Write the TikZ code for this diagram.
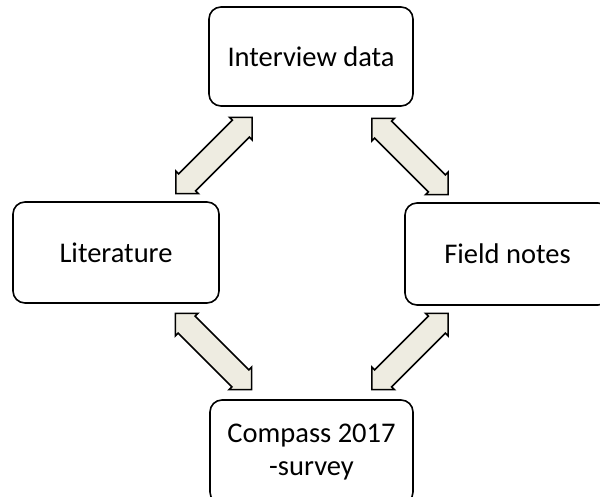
\documentclass[tikz,border=0pt]{standalone}
\usepackage{fontspec}
\setmainfont{Carlito}
\definecolor{arrfill}{RGB}{238,236,225}
\newcommand{\dblarrow}[4]{% name, center, angle, length
  \begin{scope}[shift={#2}, rotate=#3]
    \coordinate (#1-a) at (-#4/2,0);
    \coordinate (#1-b) at (#4/2,0);
    \draw[blockarrow] (-#4/2,0) -- (-#4/2+16,16) -- (-#4/2+16,12) -- (#4/2-16,12) -- (#4/2-16,16) -- (#4/2,0)
      -- (#4/2-16,-16) -- (#4/2-16,-12) -- (-#4/2+16,-12) -- (-#4/2+16,-16) -- cycle;
  \end{scope}}
\begin{document}
\begin{tikzpicture}[x=1pt,y=-1pt,
  box/.style={draw=black, line width=1.6pt, rounded corners=12pt, fill=white, align=center,
    font=\fontsize{28.5}{33}\selectfont, inner sep=0pt},
  blockarrow/.style={draw=black, line width=1.6pt, fill=arrfill, line join=miter}]
\useasboundingbox (0,0) rectangle (600,497);
\clip (0,0) rectangle (600,497);
\node[box, minimum width=204pt, minimum height=99pt] (top) at (311,56.5) {Interview data};
\node[box, minimum width=206pt, minimum height=101pt] (left) at (116,252.5) {Literature};
\node[box, minimum width=205pt, minimum height=102pt] (right) at (507.5,254) {Field notes};
\node[box, minimum width=203pt, minimum height=104pt] (bottom) at (311.5,452) {Compass 2017\\-survey};
\dblarrow{a1}{(214,155.5)}{45}{108}
\dblarrow{a2}{(410,156.5)}{-45}{108}
\dblarrow{a3}{(410,351.5)}{45}{108}
\dblarrow{a4}{(213.5,351.5)}{-45}{108}
\end{tikzpicture}
\end{document}
